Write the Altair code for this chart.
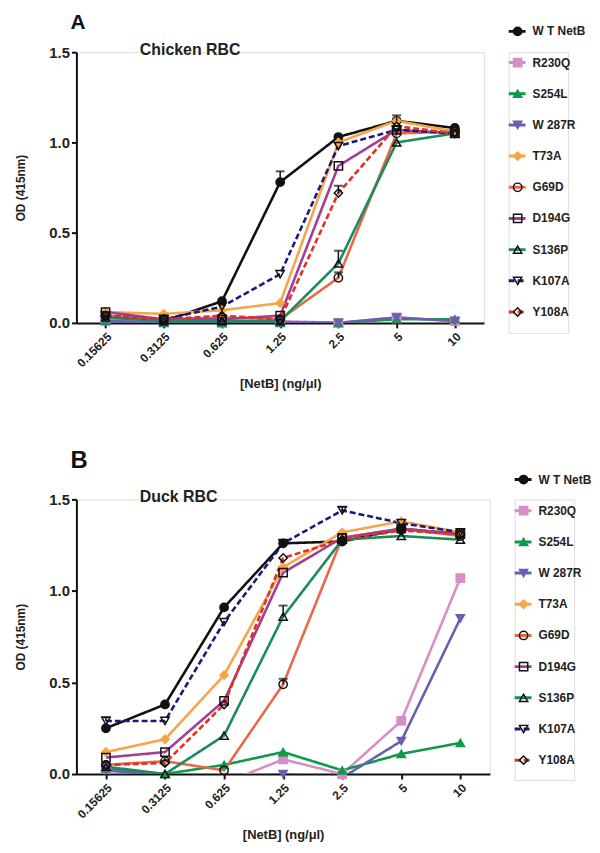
import altair as alt
import pandas as pd

CONC = ["0.15625", "0.3125", "0.625", "1.25", "2.5", "5", "10"]
SERIES = ["W T NetB", "R230Q", "S254L", "W 287R", "T73A",
          "G69D", "D194G", "S136P", "K107A", "Y108A"]
COLORS = ["#111111", "#d68fc6", "#0e9a4a", "#6a5fb0", "#f7a54a",
          "#e8694a", "#a23d98", "#1c8a5c", "#1c1a80", "#e2321f"]
SHAPES = ["circle", "square", "triangle-up", "triangle-down", "diamond",
          "circle", "square", "triangle-up", "triangle-down", "diamond"]
FILLS = ["#111111", "#d68fc6", "#0e9a4a", "#6a5fb0", "#f7a54a",
         "transparent", "transparent", "transparent", "transparent", "transparent"]
STROKES = ["#111111", "#d68fc6", "#0e9a4a", "#6a5fb0", "#f7a54a",
           "#111111", "#111111", "#111111", "#111111", "#111111"]
DASHES = [[1, 0]] * 8 + [[6, 3], [6, 3]]

CHICKEN = {
    "W T NetB": [0.02, 0.01, 0.12, 0.78, 1.03, 1.12, 1.08],
    "R230Q":    [0.02, 0.01, 0.00, 0.01, 0.00, 0.03, 0.01],
    "S254L":    [0.01, 0.00, 0.00, 0.00, 0.00, 0.02, 0.02],
    "W 287R":   [0.01, 0.00, 0.00, 0.00, 0.00, 0.03, 0.01],
    "T73A":     [0.06, 0.05, 0.07, 0.11, 1.00, 1.12, 1.06],
    "G69D":     [0.04, 0.02, 0.03, 0.02, 0.25, 1.05, 1.06],
    "D194G":    [0.06, 0.02, 0.02, 0.04, 0.87, 1.07, 1.05],
    "S136P":    [0.03, 0.01, 0.01, 0.01, 0.33, 1.00, 1.05],
    "K107A":    [0.04, 0.02, 0.09, 0.27, 0.98, 1.07, 1.05],
    "Y108A":    [0.04, 0.02, 0.04, 0.02, 0.72, 1.09, 1.05],
}
DUCK = {
    "W T NetB": [0.25, 0.38, 0.91, 1.26, 1.27, 1.34, 1.31],
    "R230Q":    [0.03, -0.02, -0.05, 0.08, 0.00, 0.29, 1.07],
    "S254L":    [0.03, 0.00, 0.05, 0.12, 0.02, 0.11, 0.17],
    "W 287R":   [0.02, -0.01, -0.02, 0.00, -0.02, 0.18, 0.85],
    "T73A":     [0.12, 0.19, 0.54, 1.13, 1.32, 1.38, 1.32],
    "G69D":     [0.05, 0.07, 0.02, 0.49, 1.29, 1.34, 1.30],
    "D194G":    [0.09, 0.12, 0.40, 1.10, 1.29, 1.34, 1.31],
    "S136P":    [0.04, 0.00, 0.21, 0.86, 1.28, 1.30, 1.28],
    "K107A":    [0.29, 0.29, 0.83, 1.26, 1.44, 1.37, 1.32],
    "Y108A":    [0.05, 0.06, 0.38, 1.18, 1.28, 1.33, 1.31],
}

ERR_A_SERIES = ["W T NetB", "W T NetB", "S136P", "G69D", "Y108A"]
ERR_A_CONC = ["1.25", "5", "2.5", "2.5", "2.5"]
ERR_A_LOW = [0.78, 1.12, 0.33, 0.25, 0.72]
ERR_A_HIGH = [0.84, 1.15, 0.40, 0.28, 0.76]

ERR_B_SERIES = ["S136P", "G69D", "K107A", "K107A", "W T NetB"]
ERR_B_CONC = ["1.25", "1.25", "2.5", "0.15625", "1.25"]
ERR_B_LOW = [0.86, 0.49, 1.44, 0.29, 1.26]
ERR_B_HIGH = [0.92, 0.52, 1.46, 0.31, 1.28]

FONT = "Liberation Sans"
MSIZE = 70


def long_df(values):
    rows = []
    for s in SERIES:
        for c, v in zip(CONC, values[s]):
            rows.append({"series": s, "conc": c, "od": v})
    return pd.DataFrame(rows)


def make_panel(values, es, ec, el, eh, letter, subtitle, width, height, letter_size, toff):
    df = long_df(values)
    edf = pd.DataFrame({"series": es, "conc": ec, "low": el, "high": eh})
    xaxis = alt.Axis(title="[NetB] (ng/\u03bcl)", labelAngle=-45, labelFontSize=12,
                     labelFontWeight="bold", labelColor="#222222",
                     titleFontSize=13, titleFontWeight="bold", titleColor="#222222",
                     tickSize=5, tickWidth=2, tickColor="#111111",
                     domainWidth=2, domainColor="#111111", titlePadding=9, labelPadding=3)
    yaxis = alt.Axis(title="OD (415nm)", values=[0, 0.5, 1.0, 1.5], format=".1f",
                     labelFontSize=15, labelFontWeight="bold", labelColor="#222222",
                     titleFontSize=12, titleFontWeight="bold", titleColor="#222222",
                     tickSize=5, tickWidth=2, tickColor="#111111",
                     domainWidth=2, domainColor="#111111", grid=False, titlePadding=22,
                     labelPadding=2)
    xs = alt.Scale(type="point", padding=0.5)
    ys = alt.Scale(domain=[0, 1.5])
    X = alt.X("conc:N", sort=CONC, scale=xs, axis=xaxis)

    lines = alt.Chart(df).mark_line(strokeWidth=2.6, clip=True).encode(
        x=X,
        y=alt.Y("od:Q", scale=ys, axis=yaxis),
        color=alt.Color("series:N", scale=alt.Scale(domain=SERIES, range=COLORS), legend=None),
        strokeDash=alt.StrokeDash("series:N", scale=alt.Scale(domain=SERIES, range=DASHES), legend=None),
        order=alt.Order("conc_idx:Q"),
    ).transform_calculate(conc_idx="indexof(%s, datum.conc)" % str(CONC))

    points = alt.Chart(df).transform_filter("datum.od >= 0").mark_point(
        size=MSIZE, strokeWidth=1.5, opacity=1).encode(
        x=X,
        y=alt.Y("od:Q", scale=ys, axis=yaxis),
        shape=alt.Shape("series:N", scale=alt.Scale(domain=SERIES, range=SHAPES), legend=None),
        fill=alt.Fill("series:N", scale=alt.Scale(domain=SERIES, range=FILLS), legend=None),
        stroke=alt.Stroke("series:N", scale=alt.Scale(domain=SERIES, range=STROKES), legend=None),
    )

    erule = alt.Chart(edf).mark_rule(color="#111111", strokeWidth=1.5).encode(
        x=X, y=alt.Y("low:Q", scale=ys, axis=yaxis), y2="high:Q")
    etick = alt.Chart(edf).mark_tick(color="#111111", thickness=2, size=9).encode(
        x=X, y=alt.Y("high:Q", scale=ys, axis=yaxis))

    sub = alt.Chart(pd.DataFrame({"t": [subtitle]})).mark_text(
        align="left", baseline="middle", fontSize=16, fontWeight="bold", color="#222222",
        font=FONT).encode(text="t:N", x=alt.value(64), y=alt.value(-2))

    return alt.layer(lines, points, erule, etick, sub).properties(
        width=width, height=height,
        title=alt.TitleParams(letter, anchor="start", frame="group", fontSize=letter_size,
                              fontWeight="bold", color="#111111", dx=-6, offset=toff, font=FONT))


def make_legend(shift):
    ldf = pd.DataFrame({"series": SERIES})
    Y = alt.Y("series:N", sort=SERIES, scale=alt.Scale(type="point", padding=0), axis=None)
    col = alt.Color("series:N", scale=alt.Scale(domain=SERIES, range=COLORS), legend=None)
    rule = alt.Chart(ldf).mark_rule(strokeWidth=3, yOffset=shift).encode(
        x=alt.value(0), x2=alt.value(17), y=Y, color=col,
        strokeDash=alt.StrokeDash("series:N", scale=alt.Scale(domain=SERIES, range=[[1, 0]] * 8 + [[4, 2], [4, 2]]), legend=None))
    pts = alt.Chart(ldf).mark_point(size=MSIZE, strokeWidth=1.5, opacity=1, yOffset=shift).encode(
        x=alt.value(9), y=Y,
        shape=alt.Shape("series:N", scale=alt.Scale(domain=SERIES, range=SHAPES), legend=None),
        fill=alt.Fill("series:N", scale=alt.Scale(domain=SERIES, range=FILLS), legend=None),
        stroke=alt.Stroke("series:N", scale=alt.Scale(domain=SERIES, range=STROKES), legend=None))
    txt = alt.Chart(ldf).mark_text(align="left", baseline="middle", fontSize=12,
                                   fontWeight="bold", color="#222222", font=FONT,
                                   yOffset=shift).encode(
        x=alt.value(24), y=Y, text="series:N")
    return alt.layer(rule, pts, txt).properties(width=60, height=283)


panelA = make_panel(CHICKEN, ERR_A_SERIES, ERR_A_CONC, ERR_A_LOW, ERR_A_HIGH,
                    "A", "Chicken RBC", 411, 273, 21, 9)
panelB = make_panel(DUCK, ERR_B_SERIES, ERR_B_CONC, ERR_B_LOW, ERR_B_HIGH,
                    "B", "Duck RBC", 417, 277, 24, 17)

rowA = alt.hconcat(panelA, make_legend(-21), spacing=22)
rowB = alt.hconcat(panelB, make_legend(-20), spacing=22)

chart = alt.vconcat(rowA, rowB, spacing=57).properties(
    padding={"left": 5, "top": 0, "right": 0, "bottom": 0}
).configure_view(stroke=None).configure(font=FONT)

chart.save("out.html", embed_options={"renderer": "svg", "actions": False})
